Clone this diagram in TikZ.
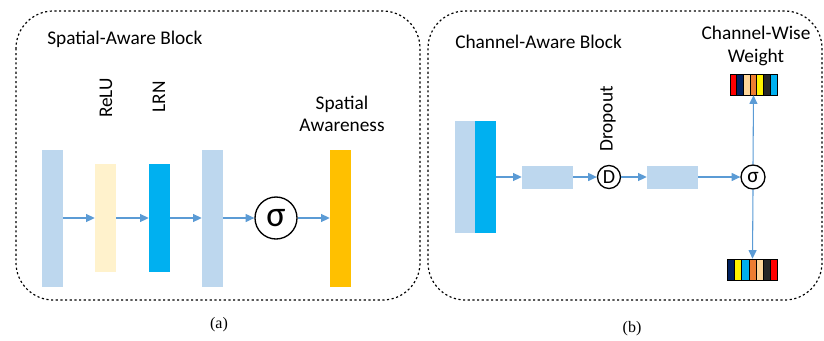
\documentclass[tikz,border=0pt]{standalone}
\usepackage{fontspec}
\setmainfont{Carlito}
\newfontfamily\capfont{Liberation Serif}
\usetikzlibrary{arrows.meta}
\begin{document}
\begin{tikzpicture}[x=0.75pt,y=-0.75pt]
\definecolor{barblue}{HTML}{BDD7EE}
\definecolor{barcream}{HTML}{FFF2CC}
\definecolor{barcyan}{HTML}{00B0F0}
\definecolor{bargold}{HTML}{FFC000}
\definecolor{arrowblue}{HTML}{5B9BD5}
\definecolor{wnavy}{HTML}{002060}
\definecolor{wpeach}{HTML}{FFD699}
\definecolor{worange}{HTML}{ED7D31}
\definecolor{wdark}{HTML}{262626}
\tikzset{
  bar/.style = {rectangle, draw = none, inner sep = 0pt, minimum width = 21*0.75pt},
  link/.style = {color = arrowblue, line width = 0.8pt, -{Triangle[length = 6.5pt, width = 6pt]}},
  blockbox/.style = {draw = black, line width = 0.9pt, dash pattern = on 1.6pt off 1.9pt, rounded corners = 28pt},
  op/.style = {circle, draw = black, line width = 1pt, inner sep = 0pt},
  lbl/.style = {font = \fontsize{14.5}{17}\selectfont}
}
\useasboundingbox (0,0) rectangle (824,340);
% (a) spatial-aware block
\draw [blockbox] (16,11) rectangle (420,300);
\node [lbl, anchor = west, inner sep = 0pt] (satitle) at (47,39) {Spatial-Aware Block};
\node [bar, fill = barblue, minimum height = 137*0.75pt] (sin) at (52.5,218) {};
\node [bar, fill = barcream, minimum height = 108*0.75pt] (relu) at (105.5,218) {};
\node [bar, fill = barcyan, minimum height = 108*0.75pt] (lrn) at (159.5,218) {};
\node [bar, fill = barblue, minimum height = 137*0.75pt] (sfeat) at (212.5,218) {};
\node [op, minimum size = 42*0.75pt, font = \fontsize{27}{27}\selectfont] (ssig) at (276,218) {σ};
\node [bar, fill = bargold, minimum height = 137*0.75pt] (saware) at (340.5,218) {};
\node [lbl, rotate = 90] (relulabel) at (106,98) {ReLU};
\node [lbl, rotate = 90] (lrnlabel) at (159,97) {LRN};
\node [lbl, align = center] (sawarelabel) at (342,114) {Spatial\\Awareness};
\draw [link] (sin.east) -- (relu.west);
\draw [link] (relu.east) -- (lrn.west);
\draw [link] (lrn.east) -- (sfeat.west);
\draw [link] (sfeat.east) -- (ssig.west);
\draw [link] (ssig.east) -- (saware.west);
\node [font = \capfont\fontsize{12}{12}\selectfont] (capa) at (219,325) {(a)};
% (b) channel-aware block
\draw [blockbox] (428,11) rectangle (822,300);
\node [lbl, anchor = west, inner sep = 0pt] (catitle) at (455,42) {Channel-Aware Block};
\node [bar, fill = barblue, minimum width = 20*0.75pt, minimum height = 112*0.75pt] (cinl) at (465,177) {};
\node [bar, fill = barcyan, minimum height = 112*0.75pt] (cin) at (485.5,177) {};
\node [bar, fill = barblue, minimum width = 51*0.75pt, minimum height = 23*0.75pt] (fc1) at (547.5,177) {};
\node [op, minimum size = 23*0.75pt, font = \fontsize{15}{15}\selectfont] (drop) at (609,177) {D};
\node [bar, fill = barblue, minimum width = 51*0.75pt, minimum height = 23*0.75pt] (fc2) at (672.5,177) {};
\node [op, minimum size = 24*0.75pt, font = \fontsize{16}{16}\selectfont] (csig) at (753,177) {σ};
\node [lbl, rotate = 90] (droplabel) at (608,119) {Dropout};
\node [lbl, align = center] (cwlabel) at (756,46) {Channel-Wise\\Weight};
\node [rectangle, inner sep = 0pt, minimum width = 47*0.75pt, minimum height = 21*0.75pt] (wtop) at (753.5,84.5) {};
\node [rectangle, inner sep = 0pt, minimum width = 50*0.75pt, minimum height = 21*0.75pt] (wbot) at (752.5,269.5) {};
\foreach \c [count = \i from 0] in {red, wnavy, wpeach, worange, yellow, wdark, barcyan}
  \draw [fill = \c, draw = black, line width = 0.6pt] (730+\i*47/7,74) rectangle (730+\i*47/7+47/7,95);
\foreach \c [count = \i from 0] in {wnavy, yellow, barcyan, worange, wpeach, wdark, red}
  \draw [fill = \c, draw = black, line width = 0.6pt] (727.5+\i*50/7,259) rectangle (727.5+\i*50/7+50/7,280);
\draw [link] (cin.east) -- (fc1.west);
\draw [link] (fc1.east) -- (drop.west);
\draw [link] (drop.east) -- (fc2.west);
\draw [link] (fc2.east) -- (csig.west);
\draw [link] (csig.north) -- (wtop.south);
\draw [link] (csig.south) -- (wbot.north);
\node [font = \capfont\fontsize{12}{12}\selectfont] (capb) at (632,329) {(b)};
\end{tikzpicture}
\end{document}
